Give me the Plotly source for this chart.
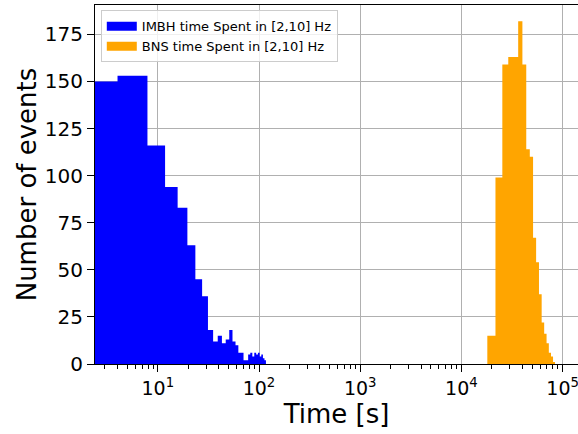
import plotly.graph_objects as go

# IMBH histogram: bin edges [s] and counts
imbh_edges = [0.1, 4.0, 7.9, 11.8, 15.7, 19.6, 23.5, 27.4, 31.3, 35.2, 39.1,
              43.0, 46.9, 50.8, 54.7, 58.6, 62.5, 66.4, 70.3, 74.2, 78.1,
              82.0, 85.9, 89.8, 93.7, 97.6, 101.5, 105.4, 109.3, 113.2, 117.1]
imbh_counts = [150, 153, 116, 94, 83, 63, 45, 36, 18, 12,
               15, 11, 13, 18, 12, 10, 6, 6, 2, 2,
               5, 6, 4, 6, 5, 6, 4, 5, 3, 2]

# BNS histogram: bin edges [s] and counts
bns_edges = [18030, 21700, 25370, 29040, 32710, 36380, 40050, 43720, 47390,
             51060, 54730, 58400, 62070, 65740, 69410, 73080, 76750, 80420, 84090]
bns_counts = [15, 99, 159, 163, 163, 182, 159, 114, 110,
              67, 54, 37, 22, 16, 11, 6, 4, 1]

labels = ["IMBH time Spent in [2,10] Hz", "BNS time Spent in [2,10] Hz"]
colors = ["#0000ff", "#ffa500"]

x_tickvals = [10, 100, 1000, 10000, 100000]
x_ticktext = ["10<sup>1</sup>", "10<sup>2</sup>", "10<sup>3</sup>", "10<sup>4</sup>", "10<sup>5</sup>"]
y_tickvals = [0, 25, 50, 75, 100, 125, 150, 175]

fig = go.Figure()
for edges, counts, name, col in [(imbh_edges, imbh_counts, labels[0], colors[0]),
                                 (bns_edges, bns_counts, labels[1], colors[1])]:
    fig.add_trace(go.Scatter(
        x=edges, y=list(counts) + [counts[-1]],
        mode="lines", line=dict(shape="hv", width=0, color=col),
        fill="tozeroy", fillcolor=col, name=name, showlegend=False,
    ))
    # legend patch entry
    fig.add_trace(go.Scatter(
        x=[None], y=[None], mode="lines",
        line=dict(width=9, color=col), name=name, showlegend=True,
    ))

font_family = "DejaVu Sans"
fig.update_layout(
    width=578, height=434,
    margin=dict(l=95, r=0, t=5, b=70),
    plot_bgcolor="white", paper_bgcolor="white",
    font=dict(family=font_family, color="black"),
    showlegend=True,
    legend=dict(
        x=0.012, y=0.985, xanchor="left", yanchor="top",
        bgcolor="rgba(255,255,255,0.8)", bordercolor="#cccccc", borderwidth=1,
        font=dict(size=13, family=font_family),
        tracegroupgap=0, itemwidth=30,
    ),
    xaxis=dict(
        type="log", range=[0.3794, 5.152],
        tickvals=x_tickvals, ticktext=x_ticktext,
        ticklabeloverflow="allow",
        showline=True, linecolor="black", linewidth=1, mirror=True,
        ticks="outside", ticklen=7, tickwidth=1.2, tickcolor="black",
        tickfont=dict(size=19),
        showgrid=True, gridcolor="#b0b0b0", gridwidth=1,
        minor=dict(ticks="outside", ticklen=4, tickcolor="black", dtick="D1", showgrid=False),
        title=dict(text="Time [s]", font=dict(size=26), standoff=0),
        zeroline=False,
    ),
    yaxis=dict(
        range=[0, 190.6],
        tickvals=y_tickvals,
        showline=True, linecolor="black", linewidth=1,
        ticks="outside", ticklen=7, tickwidth=1.2, tickcolor="black",
        tickfont=dict(size=20),
        showgrid=True, gridcolor="#b0b0b0", gridwidth=1,
        title=dict(text="Number of events", font=dict(size=26), standoff=0),
        zeroline=False,
    ),
)

fig.write_html("out.html")
